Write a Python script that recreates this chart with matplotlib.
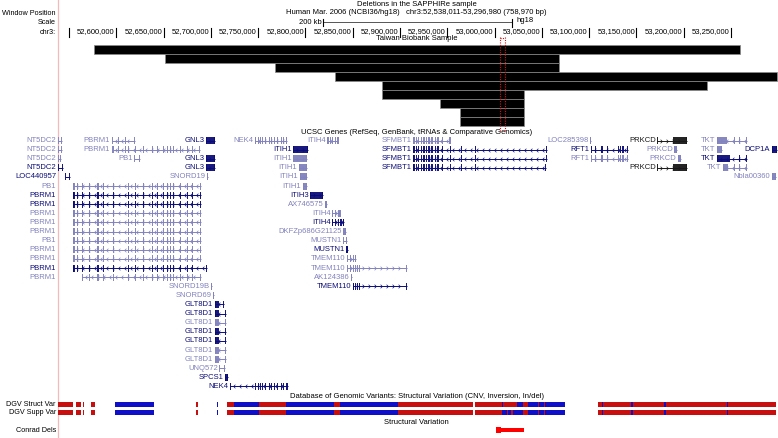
import matplotlib
matplotlib.use("Agg")
import matplotlib.pyplot as plt
from matplotlib.path import Path
import numpy as np

plt.rcParams['font.family'] = ['Liberation Sans', 'DejaVu Sans']

# ------------------------------------------------------------------ data
WIN_START, WIN_END = 52538011, 53296980
title1 = "Deletions in the SAPPHIRe sample"
title2 = "Human Mar. 2006 (NCBI36/hg18)   chr3:52,538,011-53,296,980 (758,970 bp)"

tick_pos = [52550000, 52600000, 52650000, 52700000, 52750000, 52800000, 52850000,
            52900000, 52950000, 53000000, 53050000, 53100000, 53150000, 53200000, 53250000]
tick_labels = ['', '52,600,000', '52,650,000', '52,700,000', '52,750,000', '52,800,000',
               '52,850,000', '52,900,000', '52,950,000', '53,000,000', '53,050,000',
               '53,100,000', '53,150,000', '53,200,000', '53,250,000']
scale_start = 52818500
scale_len = 200000

# Taiwan Biobank deletions (bp)
taiwan_starts = [52576000, 52651500, 52767800, 52831200, 52880900, 52880900, 52942300, 52963400, 52963400]
taiwan_ends = [53259000, 53068000, 53068000, 53298600, 53224600, 53031100, 53031100, 53031100, 53031100]
highlight = [53005700, 53011000]

# gene structures (kb)
PBRM1_EX = [(52554, 2.5), (52558, 1), (52564, 1), (52571, 1), (52580, 1.2), (52586, 1),
            (52596, 1.2), (52612, 1), (52620, 1.2), (52628, 1), (52638, 1.2), (52643, 1),
            (52649, 1.2), (52654, 1), (52657, 1.2), (52660, 1), (52667, 1.2), (52675, 1),
            (52680, 1)]
SFMBT1_EX = [(52914, 1.5), (52916.5, 1.2), (52919, 1.5), (52922, 1.0), (52924, 2.0),
             (52927.5, 1.2), (52930, 1.5), (52933, 2.0), (52936.5, 1.0), (52939, 2.0),
             (52944, 0.8), (52953, 0.8), (52964, 0.8), (52979, 0.8)]
RFT1_EX = [(53106, 1), (53113, 2), (53119, 1), (53130, 1.5), (53133, 1), (53135, 1.5)]
NEK4_EX = [(52747, 1), (52749.5, 1), (52752, 1), (52754.5, 1), (52757, 1), (52761, 1),
           (52764, 1), (52767, 1), (52770, 1), (52774, 1), (52776.5, 1), (52779, 1)]
ITIH4_EX = [(52823, 1.5), (52826, 1), (52828, 1), (52831, 1.2), (52834, 1.5), (52837, 1.2), (52840, 1)]
TMEM110_EX = [(52847, 1), (52850, 1), (52852, 1), (52854, 1), (52857, 1)]
GLT8D1_EX = [(52704, 5)]

# (row, name, start_kb, end_kb, style, strand, exons)
genes = [
    (0, 'NT5DC2', 52538, 52543, 'l', '-', []),
    (0, 'PBRM1', 52595, 52620, 'l', '-', [(52602, 1), (52609, 1)]),
    (0, 'GNL3', 52695, 52704, 'd', '+', [(52695, 9)]),
    (0, 'NEK4', 52747, 52780, 'l', '-', NEK4_EX),
    (0, 'ITIH4', 52823, 52834, 'l', '-', ITIH4_EX),
    (0, 'SFMBT1', 52914, 52953, 'l', '-', SFMBT1_EX),
    (0, 'LOC285398', 53101, 53102, 'l', '-', []),
    (0, 'PRKCD', 53172, 53203, 'k', '+', [(53189, 14)]),
    (0, 'TKT', 53235, 53267, 'l', '-', [(53235, 11), (53253, 1), (53258, 1)]),
    (1, 'NT5DC2', 52538, 52543, 'l', '-', []),
    (1, 'PBRM1', 52595, 52688, 'l', '-', [(52602, 1), (52609, 1)] + PBRM1_EX),
    (1, 'ITIH1', 52787, 52803, 'd', '+', [(52787, 16)]),
    (1, 'SFMBT1', 52914, 53055, 'd', '-', SFMBT1_EX),
    (1, 'RFT1', 53102, 53141, 'd', '-', RFT1_EX),
    (1, 'PRKCD', 53190, 53193, 'l', '+', [(53190, 3)]),
    (1, 'TKT', 53235, 53240, 'l', '-', [(53235, 5)]),
    (1, 'DCP1A', 53293, 53299, 'd', '-', [(53293, 6)]),
    (2, 'NT5DC2', 52538, 52542, 'l', '-', []),
    (2, 'PB1', 52619, 52625, 'l', '-', []),
    (2, 'GNL3', 52695, 52704, 'd', '+', [(52695, 9)]),
    (2, 'ITIH1', 52787, 52802, 'l', '+', [(52787, 15)]),
    (2, 'SFMBT1', 52914, 53055, 'd', '-', SFMBT1_EX),
    (2, 'RFT1', 53102, 53141, 'l', '-', RFT1_EX),
    (2, 'PRKCD', 53194, 53197, 'l', '+', [(53194, 3)]),
    (2, 'TKT', 53235, 53267, 'd', '-', [(53235, 14), (53258, 1)]),
    (3, 'NT5DC2', 52538, 52544, 'd', '-', []),
    (3, 'GNL3', 52695, 52704, 'd', '+', [(52695, 9)]),
    (3, 'ITIH1', 52793, 52802, 'l', '+', [(52793, 9)]),
    (3, 'SFMBT1', 52914, 53054, 'd', '-', SFMBT1_EX),
    (3, 'PRKCD', 53172, 53203, 'k', '+', [(53189, 14)]),
    (3, 'TKT', 53241, 53267, 'l', '-', [(53241, 6), (53253, 1), (53258, 1)]),
    (4, 'LOC440957', 52546, 52551, 'd', '+', []),
    (4, 'SNORD19', 52696, 52697, 'l', '+', []),
    (4, 'ITIH1', 52794, 52802, 'l', '+', [(52794, 8)]),
    (4, 'Nbla00360', 53293, 53297, 'l', '+', [(53293, 4)]),
    (5, 'PB1', 52554, 52690, 'l', '-', PBRM1_EX),
    (5, 'ITIH1', 52797, 52802, 'l', '+', [(52797, 5)]),
    (6, 'PBRM1', 52554, 52690, 'd', '-', PBRM1_EX),
    (6, 'ITIH3', 52805, 52818, 'd', '+', [(52805, 13)]),
    (7, 'PBRM1', 52554, 52690, 'd', '-', PBRM1_EX),
    (7, 'AX746575', 52821, 52823, 'l', '+', [(52821, 2)]),
    (8, 'PBRM1', 52554, 52690, 'l', '-', PBRM1_EX),
    (8, 'ITIH4', 52828, 52837, 'l', '-', ITIH4_EX),
    (9, 'PBRM1', 52554, 52690, 'l', '-', PBRM1_EX),
    (9, 'ITIH4', 52828, 52841, 'd', '-', ITIH4_EX),
    (10, 'PBRM1', 52554, 52690, 'l', '-', PBRM1_EX),
    (10, 'DKFZp686G21125', 52840, 52843, 'l', '+', [(52840, 3)]),
    (11, 'PB1', 52554, 52690, 'l', '-', PBRM1_EX),
    (11, 'MUSTN1', 52840, 52844, 'l', '+', []),
    (12, 'PBRM1', 52554, 52690, 'l', '-', PBRM1_EX),
    (12, 'MUSTN1', 52843, 52845, 'd', '+', [(52843, 2)]),
    (13, 'PBRM1', 52554, 52690, 'l', '-', PBRM1_EX),
    (13, 'TMEM110', 52844, 52853, 'l', '+', TMEM110_EX),
    (14, 'PBRM1', 52554, 52696, 'd', '-', PBRM1_EX),
    (14, 'TMEM110', 52844, 52907, 'l', '+', TMEM110_EX),
    (15, 'PBRM1', 52564, 52690, 'l', '-', PBRM1_EX),
    (15, 'AK124386', 52848, 52849, 'l', '+', [(52848, 1)]),
    (16, 'SNORD19B', 52700, 52701, 'l', '+', []),
    (16, 'TMEM110', 52850, 52907, 'd', '+', [(52850, 1.5)] + TMEM110_EX),
    (17, 'SNORD69', 52702, 52703, 'l', '+', []),
    (18, 'GLT8D1', 52704, 52714, 'd', '-', GLT8D1_EX),
    (19, 'GLT8D1', 52704, 52716, 'd', '-', GLT8D1_EX),
    (20, 'GLT8D1', 52704, 52716, 'l', '-', GLT8D1_EX),
    (21, 'GLT8D1', 52704, 52716, 'd', '-', GLT8D1_EX),
    (22, 'GLT8D1', 52704, 52716, 'd', '-', GLT8D1_EX),
    (23, 'GLT8D1', 52704, 52716, 'l', '-', GLT8D1_EX),
    (24, 'GLT8D1', 52704, 52716, 'l', '-', GLT8D1_EX),
    (25, 'UNQ572', 52709, 52715, 'l', '+', []),
    (26, 'SPCS1', 52715, 52718, 'd', '+', [(52715, 3)]),
    (27, 'NEK4', 52720, 52782, 'd', '-', NEK4_EX),
]

# DGV structural variants (kb, kind: r=loss, b=gain)
dgv_struct = [
    (52538, 52554, 'r'), (52557, 52563, 'r'), (52565, 52566, 'r'), (52573, 52577, 'r'),
    (52599, 52640, 'b'), (52684, 52686, 'r'), (52706, 52707, 'b'),
    (52717, 52724, 'r'), (52724, 52751, 'b'), (52751, 52779, 'r'), (52779, 52830, 'b'),
    (52830, 52837, 'r'), (52837, 52898, 'b'), (52898, 52977, 'r'),
    (52979, 53024, 'r'), (53007.5, 53008.5, 'b'), (53024, 53030, 'b'), (53030, 53035, 'r'),
    (53035, 53074, 'b'), (53045.5, 53046.5, 'r'), (53052.5, 53053.5, 'r'),
    (53109, 53297, 'r'), (53113.5, 53114.5, 'b'), (53121.5, 53122.5, 'b'),
    (53144.5, 53146, 'b'), (53179.5, 53181, 'b'), (53245.5, 53247, 'b')]
dgv_supp = [
    (52538, 52554, 'r'), (52557, 52563, 'r'), (52565, 52566, 'r'), (52573, 52577, 'r'),
    (52599, 52640, 'b'), (52684, 52686, 'r'), (52706, 52707, 'b'),
    (52717, 52724, 'r'), (52724, 52751, 'b'), (52751, 52779, 'r'), (52779, 52830, 'b'),
    (52830, 52837, 'r'), (52837, 52898, 'b'), (52898, 52977, 'r'),
    (52979, 53008, 'r'), (53008, 53024, 'b'), (53013, 53014.5, 'r'), (53017.5, 53019, 'r'),
    (53024, 53030, 'b'), (53030, 53035, 'r'),
    (53035, 53074, 'b'), (53045.5, 53046.5, 'r'), (53052.5, 53053.5, 'r'),
    (53109, 53297, 'r'), (53113.5, 53114.5, 'b'), (53121.5, 53122.5, 'b'),
    (53144.5, 53146, 'b'), (53179.5, 53181, 'b'), (53245.5, 53247, 'b')]
conrad = [(53001, 53031)]

# ------------------------------------------------------------------ layout
W, H = 778, 438
PX_L, PX_R = 57.7, 775.5
bpp = (WIN_END - WIN_START) / (PX_R - PX_L)   # bp per pixel
x0 = WIN_START - PX_L * bpp

DARK, LIGHT, BLACK = '#0c0c78', '#8282be', '#181818'
STYLE = {'d': DARK, 'l': LIGHT, 'k': BLACK}
RED, BLUE = '#c80f0f', '#0f0fc8'
FS = 5.5
FS_SIDE = 5.2

fig = plt.figure(figsize=(W / 100, H / 100), dpi=100)
ax = fig.add_axes([0, 0, 1, 1])
ax.set_xlim(x0, x0 + W * bpp)
ax.set_ylim(H, 0)
ax.axis('off')
lt = ax.get_yaxis_transform()
MARG = 56.0 / W
center = (WIN_START + WIN_END) / 2

ax.axvline(WIN_START, color='#f6b8b8', lw=0.9, zorder=0)

# header
ax.text(center, 4.5, title1, ha='center', va='center', fontsize=FS)
ax.text(center, 12.8, title2, ha='center', va='center', fontsize=FS)
for lab, yy in [('Window Position', 13.5), ('Scale', 23), ('chr3:', 32)]:
    ax.text(MARG, yy, lab, transform=lt, ha='right', va='center', fontsize=FS_SIDE)

# scale bar
ax.plot([scale_start, scale_start + scale_len], [22, 22], color='#555555', lw=0.7)
ax.plot([scale_start, scale_start], [18.5, 25.5], color='black', lw=0.8)
ax.plot([scale_start + scale_len] * 2, [18.5, 26.5], color='black', lw=0.8)
ax.text(scale_start - 1.5 * bpp, 22, '200 kb', ha='right', va='center', fontsize=FS)
ax.text(scale_start + scale_len + 4 * bpp, 20.5, 'hg18', ha='left', va='center', fontsize=FS)

# ruler
for p, lab in zip(tick_pos, tick_labels):
    ax.plot([p, p], [27.5, 36.5], color='black', lw=0.8)
    if lab:
        ax.text(p - 1.5 * bpp, 32, lab, ha='right', va='center', fontsize=FS)

# Taiwan Biobank track
ax.text(center, 39, 'Taiwan Biobank Sample', ha='center', va='center', fontsize=FS)
ROW_T = 9.0
for i, (s, e) in enumerate(zip(taiwan_starts, taiwan_ends)):
    ax.broken_barh([(s, e - s)], (45 + i * ROW_T, ROW_T), facecolor='black',
                   edgecolor='#8a8a8a', lw=0.5)
for h in highlight:
    ax.plot([h, h], [37, 131], color='#e01010', lw=0.8, ls=(0, (1, 1.2)), zorder=5)
ax.plot(highlight, [37.5, 37.5], color='#e01010', lw=0.8, ls=(0, (1, 1.2)), zorder=5)

# UCSC genes
ax.text(center, 132, 'UCSC Genes (RefSeq, GenBank, tRNAs & Comparative Genomics)',
        ha='center', va='center', fontsize=FS)
ROW_Y0, ROW_H = 140.5, 9.11
chev_l = Path([(0.5, 1), (-0.5, 0), (0.5, -1)], [Path.MOVETO, Path.LINETO, Path.LINETO])
chev_r = Path([(-0.5, 1), (0.5, 0), (-0.5, -1)], [Path.MOVETO, Path.LINETO, Path.LINETO])
renderer = fig.canvas.get_renderer()
for row, name, s, e, st, strand, exons in genes:
    c = STYLE[st]
    y = ROW_Y0 + row * ROW_H
    sb, eb = s * 1000, e * 1000
    ax.plot([sb, eb], [y, y], color=c, lw=0.7, solid_capstyle='butt')
    if eb - sb > 7 * bpp:
        xs = np.arange(sb + 4 * bpp, eb - 2 * bpp, 6 * bpp)
        ax.plot(xs, [y] * len(xs), ls='none', marker=chev_l if strand == '-' else chev_r,
                ms=2.6, mfc='none', mec=c, mew=0.5)
    blocks = [(sb, bpp), (eb - bpp, bpp)]
    for es, ew in exons:
        if s <= es <= e:
            blocks.append((es * 1000, max(min(ew, e - es) * 1000, bpp)))
    ax.broken_barh(blocks, (y - 3.5, 7), facecolor=c, edgecolor='none', alpha=0.95)
    t = ax.text(sb - 1.5 * bpp, y, name, ha='right', va='center', fontsize=FS, color=c)
    bb = t.get_window_extent(renderer)
    if bb.x0 < PX_L:
        t.set_transform(lt)
        t.set_x(MARG)

# DGV tracks
ax.text(center, 396, 'Database of Genomic Variants: Structural Variation (CNV, Inversion, In/del)',
        ha='center', va='center', fontsize=FS)
for segs, yy, lab in [(dgv_struct, 404, 'DGV Struct Var'), (dgv_supp, 412, 'DGV Supp Var')]:
    for s, e, k in segs:
        ax.broken_barh([(s * 1000, (e - s) * 1000)], (yy - 2.5, 5),
                       facecolor=RED if k == 'r' else BLUE, edgecolor='none')
    ax.text(MARG, yy, lab, transform=lt, ha='right', va='center', fontsize=FS_SIDE)

ax.text(center, 423, 'Structural Variation', ha='center', va='center', fontsize=FS)
ax.text(MARG, 430, 'Conrad Dels', transform=lt, ha='right', va='center', fontsize=FS_SIDE)
for s, e in conrad:
    ax.broken_barh([(s * 1000, (e - s) * 1000)], (428.3, 3.6), facecolor='#ff0000', edgecolor='none')
    ax.broken_barh([(s * 1000, 5 * bpp)], (427.2, 5.8), facecolor='#ff0000', edgecolor='none')

fig.savefig('out.png', dpi=100, facecolor='white')
